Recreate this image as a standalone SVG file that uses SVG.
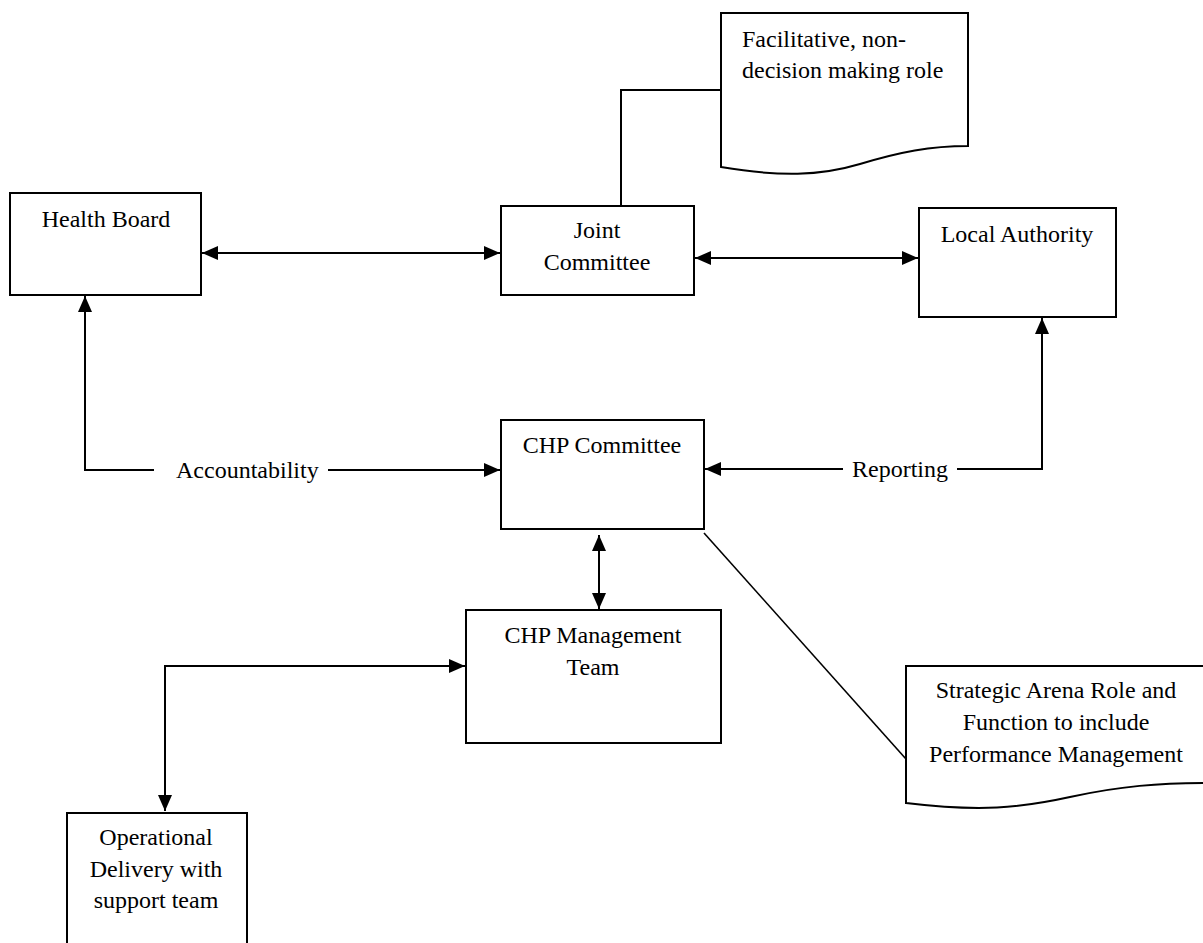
<svg xmlns="http://www.w3.org/2000/svg" width="1203" height="943" viewBox="0 0 1203 943">
<style>
.box{fill:#fff;stroke:#000;stroke-width:2}
.t{font-family:"Liberation Serif","Times New Roman",serif;font-size:24px;fill:#000}
.c{text-anchor:middle}
.ln{fill:none;stroke:#000;stroke-width:2}
.arr{marker-end:url(#ah)}
.dbl{marker-start:url(#ah);marker-end:url(#ah)}
</style>
<defs>
<marker id="ah" markerUnits="userSpaceOnUse" markerWidth="16" markerHeight="14" refX="16" refY="7" orient="auto-start-reverse" viewBox="0 0 16 14">
<path d="M0,0 L16,7 L0,14 Z" fill="#000"/>
</marker>
</defs>
<rect width="1203" height="943" fill="#fff"/>
<g id="connectors">
<line class="ln dbl" x1="202" y1="253" x2="500" y2="253"/>
<line class="ln dbl" x1="695" y1="258" x2="918" y2="258"/>
<polyline class="ln" points="721,90 621,90 621,210"/>
<polyline class="ln arr" points="154,470 85,470 85,296"/>
<line class="ln arr" x1="328" y1="470" x2="500" y2="470"/>
<polyline class="ln arr" points="957,469 1042,469 1042,318"/>
<line class="ln arr" x1="843" y1="469" x2="705" y2="469"/>
<line class="ln dbl" x1="599" y1="535" x2="599" y2="609"/>
<polyline class="ln dbl" points="465,666 165,666 165,811"/>
<line class="ln" style="stroke-width:1.6" x1="704" y1="533" x2="906" y2="759"/>
<text class="t" x="176" y="478">Accountability</text>
<text class="t" x="852" y="477">Reporting</text>
</g>
<g id="note-facilitative">
<path class="box" d="M721,13 L968,13 L968,146 C930,146 900,152 860,164 C820,176 780,177 721,167 Z"/>
<text class="t" x="742" y="47">Facilitative, non-</text>
<text class="t" x="742" y="78">decision making role</text>
</g>
<g id="health-board">
<rect class="box" x="10" y="193" width="191" height="102"/>
<text class="t c" x="106" y="227">Health Board</text>
</g>
<g id="joint-committee">
<rect class="box" x="501" y="206" width="193" height="89"/>
<text class="t c" x="597" y="238">Joint</text>
<text class="t c" x="597" y="270">Committee</text>
</g>
<g id="local-authority">
<rect class="box" x="919" y="208" width="197" height="109"/>
<text class="t c" x="1017" y="242">Local Authority</text>
</g>
<g id="chp-committee">
<rect class="box" x="501" y="420" width="203" height="109"/>
<text class="t c" x="602" y="453">CHP Committee</text>
</g>
<g id="chp-management-team">
<rect class="box" x="466" y="610" width="255" height="133"/>
<text class="t c" x="593" y="643">CHP Management</text>
<text class="t c" x="593" y="675">Team</text>
</g>
<g id="operational-delivery">
<rect class="box" x="67" y="813" width="180" height="150"/>
<text class="t c" x="156" y="845">Operational</text>
<text class="t c" x="156" y="877">Delivery with</text>
<text class="t c" x="156" y="908">support team</text>
</g>
<g id="note-strategic">
<path class="box" d="M906,666 L1206,666 L1206,783 C1160,783 1120,786 1070,797 C1020,808 980,812 906,803 Z"/>
<text class="t c" x="1056" y="698">Strategic Arena Role and</text>
<text class="t c" x="1056" y="730">Function to include</text>
<text class="t c" x="1056" y="762">Performance Management</text>
</g>
</svg>
